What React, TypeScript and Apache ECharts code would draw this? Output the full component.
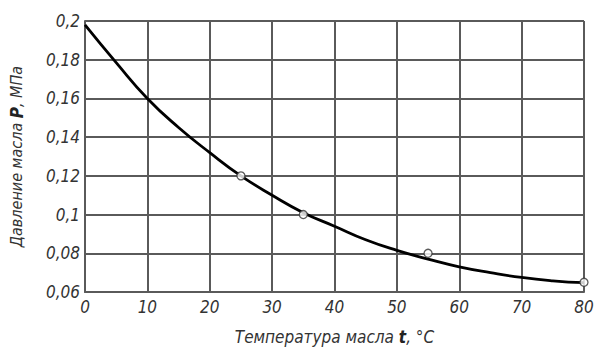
import React, { useEffect, useRef } from "react";
import * as echarts from "echarts";

const curveT = [0, 5, 10, 15, 20, 25, 30, 35, 40, 45, 50, 55, 60, 65, 70, 75, 80];
const curveP = [0.198, 0.1785, 0.16, 0.145, 0.132, 0.12, 0.11, 0.101, 0.094, 0.087, 0.0815, 0.077, 0.073, 0.07, 0.0675, 0.0658, 0.0648];
const measT = [25, 35, 55, 80];
const measP = [0.12, 0.1, 0.08, 0.065];

const FONT = "'DejaVu Sans Condensed', 'DejaVu Sans', sans-serif";

export default function App() {
  const ref = useRef<HTMLDivElement>(null);
  useEffect(() => {
    const chart = echarts.init(ref.current!, null, { renderer: "svg" });
    const gridColor = "#5a5a5a";
    chart.setOption({
      animation: false,
      backgroundColor: "#fff",
      grid: { left: 85, right: 14, top: 21, bottom: 57 },
      xAxis: {
        type: "value",
        min: 0,
        max: 80,
        interval: 10,
        axisLine: { show: true, lineStyle: { color: gridColor, width: 2 } },
        axisTick: { show: false },
        splitLine: { show: true, lineStyle: { color: gridColor, width: 2 } },
        axisLabel: {
          color: "#333",
          fontFamily: FONT,
          fontStyle: "italic",
          fontSize: 17,
          margin: 6,
        },
        name: "{a|Температура масла }{b|t}{a|, °С}",
        nameLocation: "middle",
        nameGap: 36,
        nameTextStyle: {
          rich: {
            a: { fontFamily: FONT, fontStyle: "italic", fontSize: 17, color: "#333" },
            b: { fontFamily: FONT, fontStyle: "italic", fontWeight: "bold", fontSize: 17, color: "#222" },
          },
        },
      },
      yAxis: {
        type: "value",
        min: 0.06,
        max: 0.2,
        interval: 0.02,
        axisLine: { show: true, lineStyle: { color: gridColor, width: 2 } },
        axisTick: { show: false },
        splitLine: { show: true, lineStyle: { color: gridColor, width: 2 } },
        axisLabel: {
          color: "#333",
          fontFamily: FONT,
          fontStyle: "italic",
          fontSize: 17,
          margin: 5,
          formatter: (v: number) => String(parseFloat(v.toFixed(3))).replace(".", ","),
        },
        name: "{a|Давление масла }{b|P}{a|, МПа}",
        nameLocation: "middle",
        nameGap: 60,
        nameRotate: 90,
        nameTextStyle: {
          rich: {
            a: { fontFamily: FONT, fontStyle: "italic", fontSize: 16, color: "#333" },
            b: { fontFamily: FONT, fontStyle: "italic", fontWeight: "bold", fontSize: 17, color: "#222" },
          },
        },
      },
      series: [
        {
          type: "line",
          data: curveT.map((t, i) => [t, curveP[i]]),
          smooth: 0.5,
          showSymbol: false,
          lineStyle: { color: "#000", width: 2.8 },
          z: 3,
        },
        {
          type: "scatter",
          data: measT.map((t, i) => [t, measP[i]]),
          symbol: "circle",
          symbolSize: 8,
          itemStyle: { color: "#fff", borderColor: "#333", borderWidth: 1.3 },
          z: 4,
        },
      ],
    });
    return () => chart.dispose();
  }, []);
  return <div ref={ref} style={{ width: 598, height: 350, position: "absolute", left: 0, top: 0 }} />;
}
